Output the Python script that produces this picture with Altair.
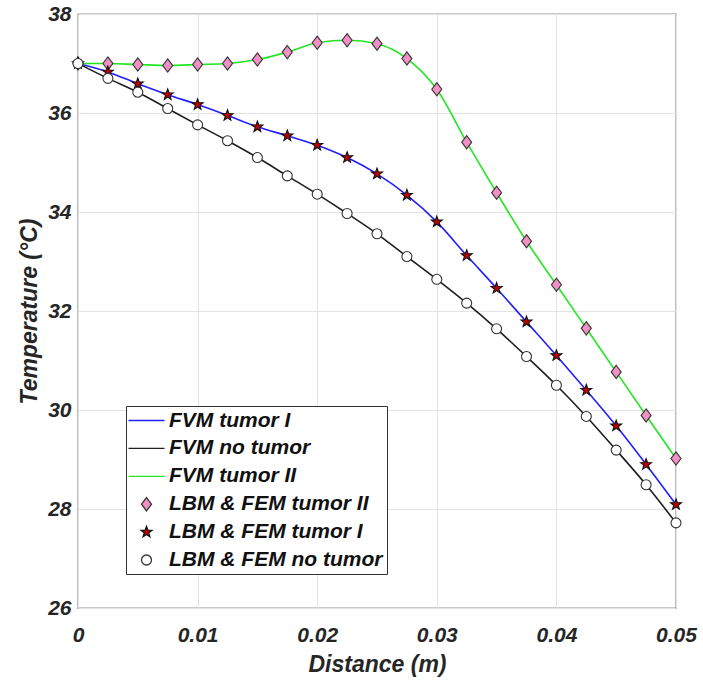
import math
import altair as alt
import pandas as pd

# ---- data ----
distance = [0.0, 0.0025, 0.005, 0.0075, 0.01, 0.0125, 0.015, 0.0175, 0.02, 0.0225,
            0.025, 0.0275, 0.03, 0.0325, 0.035, 0.0375, 0.04, 0.0425, 0.045, 0.0475, 0.05]

tumor2 = [37.00, 37.00, 36.98, 36.96, 36.98, 37.00, 37.08, 37.23, 37.42, 37.47,
          37.40, 37.10, 36.48, 35.41, 34.39, 33.41, 32.53, 31.65, 30.77, 29.89, 29.02]
tumor1 = [37.00, 36.83, 36.59, 36.37, 36.17, 35.95, 35.72, 35.54, 35.35, 35.10,
          34.77, 34.34, 33.80, 33.12, 32.46, 31.78, 31.10, 30.40, 29.68, 28.90, 28.09]
notumor = [37.00, 36.70, 36.42, 36.09, 35.76, 35.44, 35.10, 34.73, 34.36, 33.97,
           33.56, 33.10, 32.64, 32.16, 31.64, 31.08, 30.50, 29.87, 29.19, 28.49, 27.72]

series_names = ["FVM tumor I", "FVM no tumor", "FVM tumor II",
                "LBM & FEM tumor II", "LBM & FEM tumor I", "LBM & FEM no tumor"]
x_ticks = [0, 0.01, 0.02, 0.03, 0.04, 0.05]
y_ticks = [26, 28, 30, 32, 34, 36, 38]

line_series = {"FVM tumor I": tumor1, "FVM no tumor": notumor, "FVM tumor II": tumor2}
point_series = {"LBM & FEM tumor II": tumor2, "LBM & FEM tumor I": tumor1,
                "LBM & FEM no tumor": notumor}

def long_df(d):
    rows = []
    for name, vals in d.items():
        for x, y in zip(distance, vals):
            rows.append({"distance": x, "temp": y, "series": name})
    return pd.DataFrame(rows)

lines_df = long_df(line_series)
points_df = long_df(point_series)

# ---- symbol shapes ----
def star_path(outer=1.15, inner=0.47):
    pts = []
    for i in range(10):
        r = outer if i % 2 == 0 else inner
        a = -math.pi / 2 + i * math.pi / 5
        pts.append((r * math.cos(a), r * math.sin(a)))
    return "M" + "L".join(f"{px:.3f},{py:.3f}" for px, py in pts) + "Z"

line_sym = "M-3.6,0L3.6,0"
diamond_sym = "M0,-1.33L1,0L0,1.33L-1,0Z"

stroke_range = ["#1f1fff", "#1e1e1e", "#22e622", "#333333", "#111111", "#333333"]
fill_range = ["transparent", "transparent", "transparent", "#f28fc4", "#c00000", "#ffffff"]
shape_range = [line_sym, line_sym, line_sym, diamond_sym, star_path(), "circle"]

FONT = "Liberation Sans"

legend = alt.Legend(
    title=None, orient="none", legendX=48, legendY=392,
    strokeColor="#333333", fillColor="#ffffff", padding=4,
    labelFont=FONT, labelFontSize=21, labelFontWeight="bold", labelFontStyle="italic",
    labelColor="#111111", symbolSize=100, symbolStrokeWidth=1.3,
    rowPadding=5.9, symbolOffset=6, labelOffset=12, labelLimit=400,
)

stroke_scale = alt.Scale(domain=series_names, range=stroke_range)
fill_scale = alt.Scale(domain=series_names, range=fill_range)
shape_scale = alt.Scale(domain=series_names, range=shape_range)

x_enc = alt.X("distance:Q", scale=alt.Scale(domain=[0, 0.05], nice=False),
              axis=alt.Axis(values=x_ticks, format=".2~f", title="Distance (m)",
                            labelFlush=False))
y_enc = alt.Y("temp:Q", scale=alt.Scale(domain=[26, 38], nice=False, zero=False),
              axis=alt.Axis(values=y_ticks, title="Temperature (°C)"))

lines = alt.Chart(lines_df).mark_line(strokeWidth=1.6, interpolate="monotone").encode(
    x=x_enc, y=y_enc,
    stroke=alt.Stroke("series:N", scale=stroke_scale, legend=legend),
    detail="series:N",
)

points = alt.Chart(points_df).mark_point(filled=True, opacity=1, size=100, strokeWidth=1.1).encode(
    x=x_enc, y=y_enc,
    stroke=alt.Stroke("series:N", scale=stroke_scale, legend=legend),
    fill=alt.Fill("series:N", scale=fill_scale, legend=legend),
    shape=alt.Shape("series:N", scale=shape_scale, legend=legend),
)

chart = alt.layer(lines, points).properties(
    width=598, height=594,
    autosize=alt.AutoSizeParams(type="none"),
    padding={"left": 78, "top": 14, "right": 27, "bottom": 79},
).configure_view(
    stroke="#262626", strokeWidth=1.2
).configure_axis(
    grid=True, gridColor="#e3e3e3", gridWidth=1,
    domain=False, ticks=False,
    labelFont=FONT, labelFontSize=21, labelFontWeight="bold", labelFontStyle="italic",
    labelColor="#262626",
    titleFont=FONT, titleFontSize=23, titleFontWeight="bold", titleFontStyle="italic",
    titleColor="#262626",
).configure_axisX(
    labelPadding=16, titlePadding=8,
).configure_axisY(
    labelPadding=7, titlePadding=6,
)

chart.save("out.html", embed_options={"renderer": "svg", "actions": False})
